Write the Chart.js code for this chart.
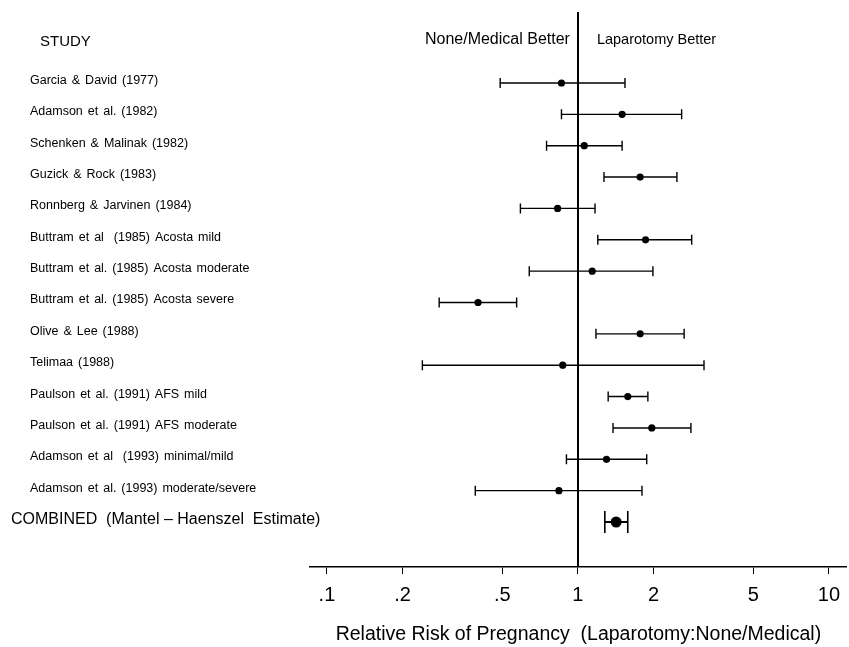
<!DOCTYPE html>
<html>
<head>
<meta charset="utf-8">
<script src="https://cdn.jsdelivr.net/npm/chart.js@4/dist/chart.umd.min.js"></script>
<style>
html,body{margin:0;padding:0;background:#fff;}
canvas{display:block;}
</style>
</head>
<body>
<canvas id="c" width="849" height="647"></canvas>
<script>
// ---- data ----
const studies = [
  "Garcia & David (1977)",
  "Adamson et al. (1982)",
  "Schenken & Malinak (1982)",
  "Guzick & Rock (1983)",
  "Ronnberg & Jarvinen (1984)",
  "Buttram et al  (1985) Acosta mild",
  "Buttram et al. (1985) Acosta moderate",
  "Buttram et al. (1985) Acosta severe",
  "Olive & Lee (1988)",
  "Telimaa (1988)",
  "Paulson et al. (1991) AFS mild",
  "Paulson et al. (1991) AFS moderate",
  "Adamson et al  (1993) minimal/mild",
  "Adamson et al. (1993) moderate/severe"
];
const rr    = [0.86, 1.50, 1.06, 1.77, 0.83, 1.86, 1.14, 0.40, 1.77, 0.87, 1.58, 1.97, 1.30, 0.84];
const lower = [0.49, 0.86, 0.75, 1.27, 0.59, 1.20, 0.64, 0.28, 1.18, 0.24, 1.32, 1.38, 0.90, 0.39];
const upper = [1.54, 2.59, 1.50, 2.48, 1.17, 2.84, 1.99, 0.57, 2.65, 3.18, 1.90, 2.82, 1.88, 1.80];

const combinedLabel = "COMBINED  (Mantel \u2013 Haenszel  Estimate)";
const combinedRR = [1.42];
const combinedLower = [1.28];
const combinedUpper = [1.58];

const tickValues = [0.1, 0.2, 0.5, 1, 2, 5, 10];
const tickLabels = [".1", ".2", ".5", "1", "2", "5", "10"];
const axisTitle = "Relative Risk of Pregnancy  (Laparotomy:None/Medical)";
const columnHeader = "STUDY";
const headerLeft = "None/Medical Better";
const headerRight = "Laparotomy Better";

// ---- chart ----
const FONT = "'Liberation Sans', Arial, Helvetica, sans-serif";
const nRows = studies.length;

const datasets = [];
studies.forEach((s, i) => {
  datasets.push({
    label: s + " CI",
    data: [{x: lower[i], y: i}, {x: upper[i], y: i}],
    showLine: true,
    borderColor: "#000",
    borderWidth: 1.4,
    pointStyle: "line",
    pointRotation: 90,
    pointRadius: 5,
    pointBorderColor: "#000",
    pointBorderWidth: 1.4,
    order: 2
  });
});
datasets.push({
  label: "Combined CI",
  data: [{x: combinedLower[0], y: nRows}, {x: combinedUpper[0], y: nRows}],
  showLine: true,
  borderColor: "#000",
  borderWidth: 2,
  pointStyle: "line",
  pointRotation: 90,
  pointRadius: 11,
  pointBorderColor: "#000",
  pointBorderWidth: 1.6,
  order: 2
});
datasets.push({
  label: "Relative risk",
  data: rr.map((v, i) => ({x: v, y: i})),
  pointRadius: 3.6,
  pointBackgroundColor: "#000",
  pointBorderColor: "#000",
  pointBorderWidth: 0,
  order: 0
});
datasets.push({
  label: "Combined",
  data: combinedRR.map(v => ({x: v, y: nRows})),
  pointRadius: 5.5,
  pointBackgroundColor: "#000",
  pointBorderColor: "#000",
  pointBorderWidth: 0,
  order: 0
});

const annot = {
  id: "annot",
  beforeDatasetsDraw(chart) {
    const {ctx, chartArea, scales: {x}} = chart;
    const px = Math.round(x.getPixelForValue(1));
    ctx.save();
    ctx.strokeStyle = "#000";
    ctx.lineWidth = 2;
    ctx.beginPath();
    ctx.moveTo(px, chartArea.top);
    ctx.lineTo(px, chartArea.bottom);
    ctx.stroke();
    ctx.restore();
  },
  afterDraw(chart) {
    const {ctx, scales: {x, y}} = chart;
    const px1 = x.getPixelForValue(1);
    ctx.save();
    ctx.fillStyle = "#000";
    ctx.textBaseline = "middle";
    ctx.textAlign = "left";
    try { ctx.wordSpacing = "1.5px"; } catch (e) {}
    ctx.font = "12.5px " + FONT;
    studies.forEach((s, i) => {
      ctx.fillText(s, 30, y.getPixelForValue(i) - 2.5);
    });
    try { ctx.wordSpacing = "0px"; } catch (e) {}
    ctx.font = "16px " + FONT;
    ctx.fillText(combinedLabel, 11, y.getPixelForValue(nRows) - 2.5);
    ctx.font = "15px " + FONT;
    ctx.fillText(columnHeader, 40, 42);
    ctx.font = "16px " + FONT;
    ctx.textAlign = "right";
    ctx.fillText(headerLeft, px1 - 8, 40);
    ctx.font = "14.5px " + FONT;
    ctx.textAlign = "left";
    ctx.fillText(headerRight, px1 + 19, 40);
    ctx.restore();
  }
};

new Chart(document.getElementById("c"), {
  type: "scatter",
  data: {datasets},
  plugins: [annot],
  options: {
    responsive: false,
    devicePixelRatio: 1,
    animation: false,
    layout: {autoPadding: false, padding: {left: 310, right: 0, top: 12, bottom: 0}},
    plugins: {legend: {display: false}, tooltip: {enabled: false}},
    scales: {
      x: {
        type: "logarithmic",
        min: 0.0856,
        max: 11.79,
        bounds: "data",
        afterBuildTicks: s => { s.ticks = tickValues.map(v => ({value: v})); },
        afterFit: s => { s.height = 80; },
        grid: {drawOnChartArea: false, drawTicks: true, tickLength: 7, color: "#000", lineWidth: 1},
        border: {display: true, color: "#000", width: 1.5},
        ticks: {
          autoSkip: false,
          maxRotation: 0,
          padding: 9,
          color: "#000",
          font: {family: FONT, size: 20},
          callback: v => { const k = tickValues.indexOf(v); return k >= 0 ? tickLabels[k] : ""; }
        },
        title: {
          display: true,
          text: axisTitle,
          color: "#000",
          font: {family: FONT, size: 19.5},
          padding: {top: 0, bottom: 1}
        }
      },
      y: {
        type: "linear",
        display: false,
        reverse: true,
        min: -2.264,
        max: 15.435,
        bounds: "data"
      }
    }
  }
});
</script>
</body>
</html>
